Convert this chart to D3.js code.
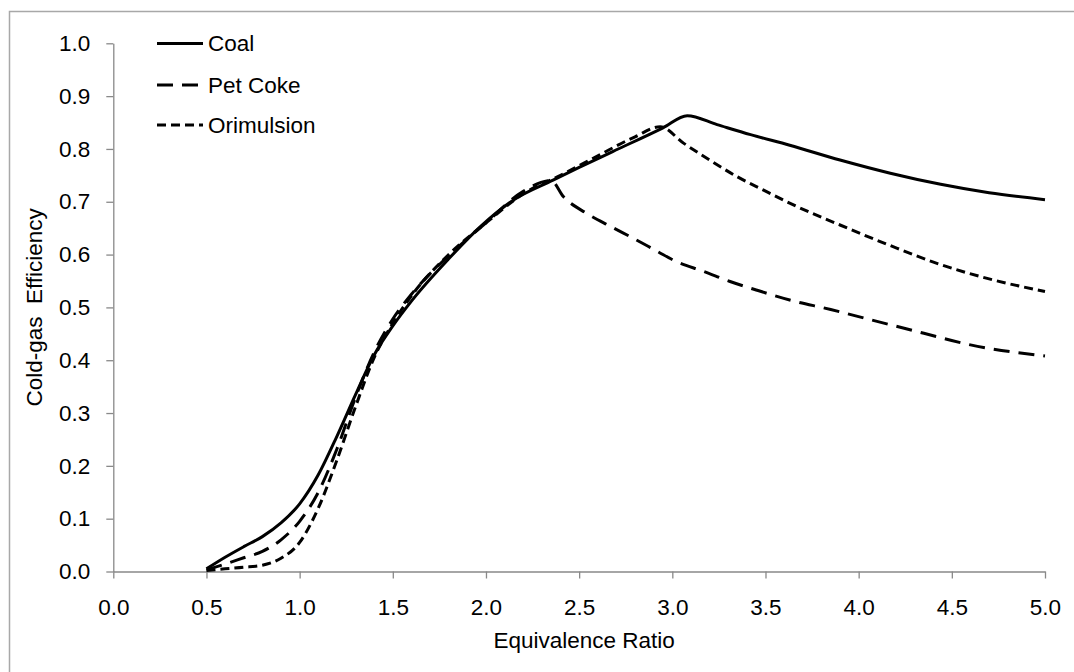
<!DOCTYPE html>
<html>
<head>
<meta charset="utf-8">
<script src="https://cdn.jsdelivr.net/npm/d3@7"></script>
<style>
  html, body { margin: 0; padding: 0; background: #fff; }
  svg { display: block; }
  text { font-family: "Liberation Sans", Arial, sans-serif; fill: #000; }
</style>
</head>
<body>
<svg id="chart" width="1074" height="672"></svg>
<script>
// ---- data ----
const coalX = [0.5,0.6,0.7,0.8,0.9,1.0,1.1,1.2,1.3,1.4,1.5,1.6,1.8,1.97,2.15,2.36,2.5,2.68,2.95,3.08,3.24,3.42,3.63,3.9,4.17,4.44,4.7,5.0];
const coalY = [0.005,0.027,0.047,0.066,0.092,0.128,0.183,0.256,0.335,0.41,0.465,0.512,0.592,0.653,0.704,0.741,0.765,0.795,0.84,0.863,0.846,0.827,0.807,0.779,0.754,0.733,0.717,0.704];

const petX = [0.5,0.6,0.7,0.8,0.9,1.0,1.1,1.2,1.3,1.4,1.5,1.6,1.8,2.0,2.2,2.35,2.415,2.54,2.67,2.79,2.92,3.02,3.17,3.31,3.45,3.63,3.85,4.06,4.35,4.6,5.0];
const petY = [0.003,0.014,0.026,0.038,0.06,0.095,0.15,0.232,0.33,0.415,0.478,0.525,0.598,0.66,0.72,0.74,0.71,0.678,0.653,0.631,0.606,0.587,0.568,0.549,0.533,0.514,0.496,0.477,0.451,0.429,0.408];

const oriX = [0.5,0.6,0.7,0.8,0.9,1.0,1.1,1.2,1.3,1.4,1.5,1.6,1.8,2.0,2.2,2.4,2.6,2.8,2.935,3.06,3.2,3.35,3.49,3.65,3.9,4.17,4.44,4.7,5.0];
const oriY = [0.002,0.005,0.008,0.012,0.025,0.055,0.12,0.211,0.312,0.405,0.47,0.522,0.6,0.66,0.715,0.75,0.787,0.823,0.842,0.811,0.779,0.747,0.722,0.694,0.656,0.617,0.581,0.554,0.53];

const seriesNames = ["Coal", "Pet Coke", "Orimulsion"];
const xTicks = [0,0.5,1,1.5,2,2.5,3,3.5,4,4.5,5];
const yTicks = [0,0.1,0.2,0.3,0.4,0.5,0.6,0.7,0.8,0.9,1.0];
const xTitle = "Equivalence Ratio";
const yTitle = "Cold-gas  Efficiency";

// ---- layout ----
const svg = d3.select("#chart");
const L = 113.3, R = 1045, T = 43.3, B = 571.5;
const x = d3.scaleLinear().domain([0, 5]).range([L, R]);
const y = d3.scaleLinear().domain([0, 1]).range([B, T]);
const axisColor = "#898989";
const fontSize = 22.5;
const fontFam = "Liberation Sans, Arial, sans-serif";

// outer border
svg.append("rect").attr("x", 9.5).attr("y", 11.5).attr("width", 1100).attr("height", 700)
  .attr("fill", "none").attr("stroke", "#a8a8a8").attr("stroke-width", 1.5);

// y axis
const yAxis = svg.append("g").attr("transform", `translate(${L},0)`)
  .call(d3.axisLeft(y).tickValues(yTicks).tickFormat(d3.format(".1f")).tickSize(7).tickSizeOuter(0).tickPadding(16));
yAxis.select(".domain").attr("stroke", axisColor).attr("stroke-width", 1.3);
yAxis.selectAll(".tick line").attr("stroke", axisColor).attr("stroke-width", 1.3);
yAxis.selectAll(".tick text").attr("font-size", fontSize).attr("font-family", fontFam).attr("fill", "#000");

// x axis
const xAxis = svg.append("g").attr("transform", `translate(0,${B})`)
  .call(d3.axisBottom(x).tickValues(xTicks).tickFormat(d3.format(".1f")).tickSize(7).tickSizeOuter(0).tickPadding(21));
xAxis.select(".domain").attr("stroke", axisColor).attr("stroke-width", 1.3);
xAxis.selectAll(".tick line").attr("stroke", axisColor).attr("stroke-width", 1.3);
xAxis.selectAll(".tick text").attr("font-size", fontSize).attr("font-family", fontFam).attr("fill", "#000");

// titles
svg.append("text").attr("x", (L + R) / 2 + 5).attr("y", 648).attr("text-anchor", "middle")
  .attr("font-size", fontSize).text(xTitle);
svg.append("text").attr("transform", `translate(42,${(T + B) / 2}) rotate(-90)`)
  .attr("text-anchor", "middle").attr("font-size", fontSize).style("white-space", "pre").text(yTitle);

// series
const styles = [
  { dash: null, width: 3 },
  { dash: "16,9", width: 3 },
  { dash: "9,5", width: 3 }
];
const allData = [
  coalX.map((v, i) => [v, coalY[i]]),
  petX.map((v, i) => [v, petY[i]]),
  oriX.map((v, i) => [v, oriY[i]])
];
const line = d3.line().x(d => x(d[0])).y(d => y(d[1])).curve(d3.curveMonotoneX);
allData.forEach((data, i) => {
  svg.append("path").datum(data).attr("d", line)
    .attr("fill", "none").attr("stroke", "#000").attr("stroke-width", styles[i].width)
    .attr("stroke-dasharray", styles[i].dash).attr("stroke-linejoin", "round");
});

// legend
const legendY = [43.5, 85, 125];
seriesNames.forEach((name, i) => {
  svg.append("line").attr("x1", 157).attr("x2", 203).attr("y1", legendY[i]).attr("y2", legendY[i])
    .attr("stroke", "#000").attr("stroke-width", 3).attr("stroke-dasharray", styles[i].dash);
  svg.append("text").attr("x", 208).attr("y", legendY[i]).attr("dy", "0.35em")
    .attr("font-size", fontSize).text(name);
});
</script>
</body>
</html>
